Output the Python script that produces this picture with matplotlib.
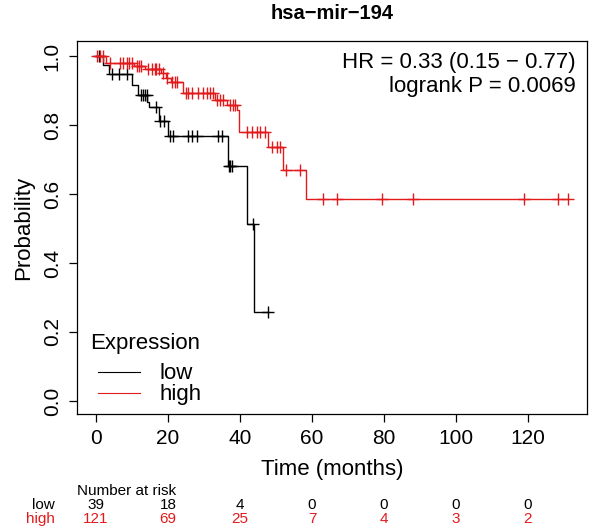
import numpy as np
import matplotlib
matplotlib.use("Agg")
import matplotlib.pyplot as plt
from matplotlib.transforms import blended_transform_factory

plt.rcParams['font.family'] = ['Liberation Sans', 'DejaVu Sans']

# Kaplan-Meier steps (months, survival after the step)
low_event_t = [1.85, 3.7, 9.9, 11.8, 14.3, 14.8, 17.4, 19.9, 36.6, 41.9, 43.9]
low_event_s = [0.974, 0.947, 0.916, 0.887, 0.868, 0.853, 0.812, 0.767, 0.681, 0.512, 0.258]
low_cens = [0.8, 4.4, 6.5, 8.6, 12.5, 13.1, 13.6, 14.1, 16.8, 17.9, 19.0, 20.6, 21.5,
            25.6, 26.6, 28.0, 34.0, 34.9, 36.9, 37.3, 37.8, 43.7, 47.9]

high_event_t = [2.8, 10.6, 13.5, 18.0, 19.4, 20.8, 24.3, 33.0, 36.3, 39.2, 39.8, 47.9, 52.0, 58.3]
high_event_s = [0.981, 0.972, 0.961, 0.950, 0.936, 0.926, 0.893, 0.872, 0.858, 0.843, 0.779,
                0.736, 0.669, 0.585]
high_cens = [0.2, 1.1, 1.9, 3.9, 6.7, 7.6, 8.5, 9.3, 9.9, 11.3, 11.9, 12.6, 14.5, 15.5, 16.4,
             16.8, 17.6, 18.5, 19.8, 21.2, 21.9, 22.6, 25.0, 25.6, 26.6, 28.4, 29.6, 30.7,
             31.7, 32.6, 33.5, 34.4, 35.4, 37.2, 38.0, 38.6, 41.9, 43.2, 44.6, 45.6, 46.9,
             48.8, 50.2, 51.1, 52.7, 56.7, 63.0, 67.0, 79.4, 88.0, 118.9, 128.4, 131.2]

risk_times = [0, 20, 40, 60, 80, 100, 120]
risk_low = [39, 18, 4, 0, 0, 0, 0]
risk_high = [121, 69, 25, 7, 4, 3, 2]

LOW_COL = 'black'
HIGH_COL = '#e31a1c'


def km_curve(ax, ev_t, ev_s, cens, color, label):
    end = max(max(ev_t), max(cens))
    t = np.r_[0, ev_t, end]
    s = np.r_[1.0, ev_s, ev_s[-1]]
    ax.step(t, s, where='post', color=color, lw=1.0, label=label)
    idx = np.searchsorted(ev_t, cens, side='right')
    cs = np.r_[1.0, ev_s][idx]
    ax.plot(cens, cs, ls='none', marker='+', ms=8, mew=1.0, color=color)


fig = plt.figure(figsize=(5.9, 5.3), dpi=100)
ax = fig.add_axes([0.1305, 0.2189, 0.8644, 0.7038])

km_curve(ax, low_event_t, low_event_s, low_cens, LOW_COL, 'low')
km_curve(ax, high_event_t, high_event_s, high_cens, HIGH_COL, 'high')

ax.set_xlim(-5.28, 136.4)
ax.set_ylim(-0.0377, 1.0435)
ax.set_xticks(risk_times)
ax.set_yticks([0, 0.2, 0.4, 0.6, 0.8, 1.0])
ax.set_yticklabels(['0.0', '0.2', '0.4', '0.6', '0.8', '1.0'], rotation=90, va='center')
ax.tick_params(direction='out', length=6, width=0.9, labelsize=15, pad=5)
for sp in ax.spines.values():
    sp.set_linewidth(0.9)

ax.set_xlabel('Time (months)', fontsize=16, labelpad=8)
ax.set_ylabel('Probability', fontsize=16, labelpad=6)
ax.set_title('hsa\u2212mir\u2212194', fontsize=14.5, fontweight='bold', pad=16)

ax.text(0.978, 0.941, 'HR = 0.33 (0.15 \u2212 0.77)', transform=ax.transAxes,
        ha='right', va='center', fontsize=16)
ax.text(0.978, 0.877, 'logrank P = 0.0069', transform=ax.transAxes,
        ha='right', va='center', fontsize=16)

# legend: title as plain text, entries via ax.legend
ax.text(0.0255, 0.190, 'Expression', transform=ax.transAxes,
        ha='left', va='center', fontsize=16)
leg = ax.legend(loc='lower left', bbox_to_anchor=(0.0098, -0.0188), frameon=False,
                fontsize=16, handlelength=1.9, handletextpad=0.9, labelspacing=0.0,
                borderaxespad=0.3)
for h in leg.get_lines():
    h.set_linewidth(0.8)

# number at risk table
tr = blended_transform_factory(ax.transData, fig.transFigure)
fig.text(0.1305, 0.0736, 'Number at risk', ha='left', va='center', fontsize=11)
fig.text(0.093, 0.0472, 'low', ha='right', va='center', fontsize=11, color=LOW_COL)
fig.text(0.093, 0.0208, 'high', ha='right', va='center', fontsize=11, color=HIGH_COL)
for x, nl, nh in zip(risk_times, risk_low, risk_high):
    ax.text(x, 0.0472, str(nl), transform=tr, ha='center', va='center', fontsize=11,
            color=LOW_COL, clip_on=False)
    ax.text(x, 0.0208, str(nh), transform=tr, ha='center', va='center', fontsize=11,
            color=HIGH_COL, clip_on=False)

fig.savefig('out.png', dpi=100)
